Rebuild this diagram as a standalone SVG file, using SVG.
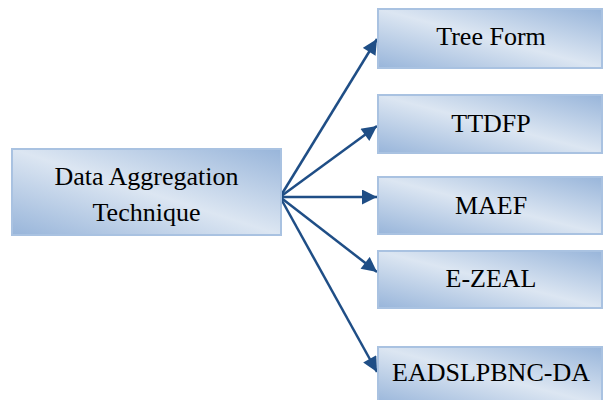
<svg xmlns="http://www.w3.org/2000/svg" width="603" height="400" viewBox="0 0 603 400">
  <defs>
    <linearGradient id="boxFill" x1="0" y1="1" x2="1" y2="0">
      <stop offset="0" stop-color="#98b5da"/>
      <stop offset="0.5" stop-color="#dce6f2"/>
      <stop offset="1" stop-color="#98b5da"/>
    </linearGradient>
    <marker id="arrowHead" viewBox="0 0 10 10" refX="10" refY="5" markerWidth="6.5" markerHeight="6" markerUnits="strokeWidth" orient="auto">
      <path d="M0,0 L10,5 L0,10 Z" fill="#1f4e86"/>
    </marker>
  </defs>
  <style>
    .box { fill: url(#boxFill); stroke: #a9c2e1; stroke-width: 2; }
    .label { font-size: 26px; fill: #000; text-anchor: middle; }
    .conn { stroke: #1f4e86; stroke-width: 2.5; fill: none; marker-end: url(#arrowHead); }
  </style>

  <g id="connectors">
    <line class="conn" x1="280" y1="197" x2="377" y2="39"/>
    <line class="conn" x1="280" y1="197" x2="377" y2="126"/>
    <line class="conn" x1="280" y1="197" x2="377" y2="197"/>
    <line class="conn" x1="280" y1="197" x2="377" y2="272"/>
    <line class="conn" x1="280" y1="197" x2="377" y2="372"/>
  </g>

  <g font-family="Liberation Serif, DejaVu Serif, serif">
    <g id="data-aggregation">
      <rect class="box" x="12" y="149" width="269" height="86"/>
      <text class="label" x="146.5" y="185">Data Aggregation</text>
      <text class="label" x="146.5" y="221">Technique</text>
    </g>

    <g id="tree-form">
      <rect class="box" x="378" y="9" width="224" height="59"/>
      <text class="label" x="491" y="45">Tree Form</text>
    </g>

    <g id="ttdfp">
      <rect class="box" x="378" y="95" width="224" height="58"/>
      <text class="label" x="491" y="132">TTDFP</text>
    </g>

    <g id="maef">
      <rect class="box" x="378" y="177" width="224" height="57"/>
      <text class="label" x="491" y="214">MAEF</text>
    </g>

    <g id="e-zeal">
      <rect class="box" x="378" y="251" width="224" height="57"/>
      <text class="label" x="491" y="287">E-ZEAL</text>
    </g>

    <g id="eadslpbnc-da">
      <rect class="box" x="378" y="347" width="224" height="58"/>
      <text class="label" x="491" y="381" font-size="25">EADSLPBNC-DA</text>
    </g>
  </g>
</svg>
